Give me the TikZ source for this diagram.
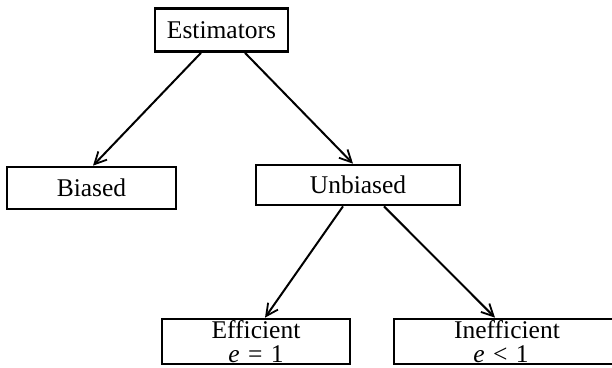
\documentclass[tikz,border=0pt]{standalone}
\usepackage{fontspec}
\setmainfont{Liberation Serif}
\usetikzlibrary{arrows.meta,calc}
\begin{document}
\begin{tikzpicture}[x=1pt,y=-1pt,
  box/.style={draw,line width=2.7pt,inner sep=0pt,font=\fontsize{25.5}{23.5}\selectfont,align=center},
  conn/.style={line width=2pt,-{Straight Barb[length=12pt,width=12pt,line width=1.8pt]}}]
\useasboundingbox (0,0) rectangle (612,367);
\node[box,minimum width=133pt,minimum height=43pt] (est) at (221.5,30) {Estimators};
\node[box,minimum width=169pt,minimum height=42pt] (bia) at (91.5,188) {Biased};
\node[box,minimum width=204pt,minimum height=40pt] (unb) at (358,185) {Unbiased};
\node[box,minimum width=188pt,minimum height=45pt] (eff) at (256,341.5) {Efficient\\{\itshape e}\,\,=\,\,1};
\node[box,minimum width=280pt,minimum height=45pt] (ine) at (534,341.5) {\hspace*{-54pt}Inefficient\\\hspace*{-66pt}{\itshape e}\,\,<\,\,1};
\draw[conn] ([xshift=-20.5pt]est.south) -- ([xshift=1.5pt]bia.north);
\draw[conn] ([xshift=23.5pt]est.south) -- ([xshift=-5pt]unb.north);
\draw[conn] ([xshift=-15pt]unb.south) -- ([xshift=9pt]eff.north);
\draw[conn] ([xshift=26pt]unb.south) -- ([xshift=-39pt]ine.north);
\end{tikzpicture}
\end{document}
